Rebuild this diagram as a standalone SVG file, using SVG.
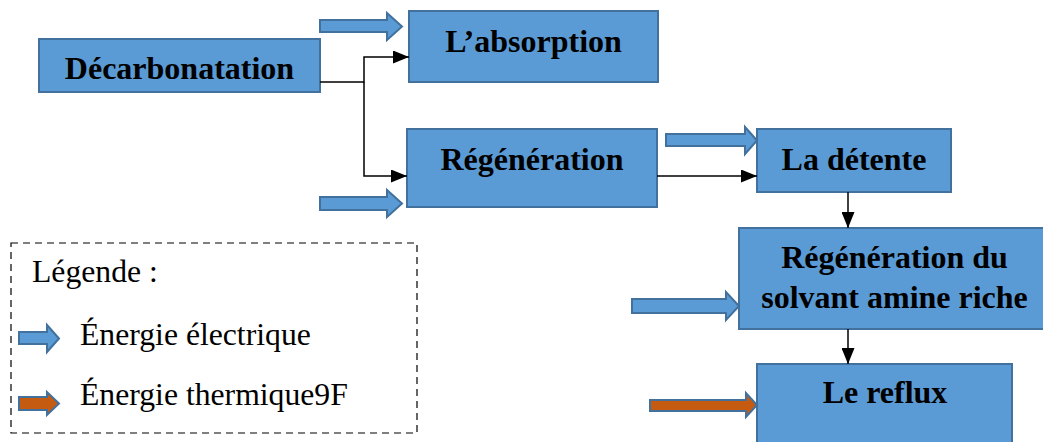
<svg xmlns="http://www.w3.org/2000/svg" width="1043" height="442" viewBox="0 0 1043 442">
<style>
.box{fill:#5B9BD5;stroke:#41719C;stroke-width:2}
.lbl{font-family:"Liberation Serif","Times New Roman",serif;font-weight:bold;font-size:32px;fill:#000;text-anchor:middle}
.leg{font-family:"Liberation Serif","Times New Roman",serif;font-size:31.7px;fill:#000}
.ea{fill:#5B9BD5;stroke:#41719C;stroke-width:2}
.ta{fill:#C55A11;stroke:#41719C;stroke-width:2}
.con{fill:none;stroke:#000;stroke-width:1.5}
</style>
<defs>
<marker id="ah" markerUnits="userSpaceOnUse" markerWidth="16" markerHeight="13" refX="16" refY="6.5" orient="auto">
<path d="M0,0 L16,6.5 L0,13 z" fill="#000"/>
</marker>
</defs>
<rect width="1043" height="442" fill="#fff"/>
<g id="decarbonatation"><rect class="box" x="39" y="39" width="281" height="53"/><text class="lbl" x="179.5" y="79">Décarbonatation</text></g>
<g id="absorption"><rect class="box" x="409" y="11" width="249" height="71"/><text class="lbl" x="533.5" y="52">L’absorption</text></g>
<g id="regeneration"><rect class="box" x="407" y="129" width="250" height="78"/><text class="lbl" x="532" y="170">Régénération</text></g>
<g id="detente"><rect class="box" x="757" y="129" width="194" height="63"/><text class="lbl" x="854" y="170">La détente</text></g>
<g id="regen-solvant"><rect class="box" x="739" y="228" width="312" height="101"/><text class="lbl" x="894.5" y="268">Régénération du</text><text class="lbl" x="894.5" y="308">solvant amine riche</text></g>
<g id="reflux"><rect class="box" x="757" y="364" width="255" height="90"/><text class="lbl" x="885" y="403">Le reflux</text></g>
<g id="connectors">
<path class="con" d="M320,82 H364 V57 H409" marker-end="url(#ah)"/>
<path class="con" d="M364,82 V176 H407" marker-end="url(#ah)"/>
<path class="con" d="M657,176 H757" marker-end="url(#ah)"/>
<path class="con" d="M848,192 V228" marker-end="url(#ah)"/>
<path class="con" d="M848,329 V364" marker-end="url(#ah)"/>
</g>
<g id="energy-arrows">
<polygon class="ea" points="320,20 387,20 387,13 402,26.5 387,40 387,32 320,32"/>
<polygon class="ea" points="320,197 387,197 387,190 402,203.5 387,217 387,210 320,210"/>
<polygon class="ea" points="666,134 745,134 745,127 757,140.5 745,154 745,146 666,146"/>
<polygon class="ea" points="632,299 726,299 726,292 739,306 726,320 726,313 632,313"/>
<polygon class="ta" points="650,400 746,400 746,393 757,405 746,417 746,411 650,411"/>
</g>
<g id="legend">
<rect x="11" y="243" width="406" height="190" fill="none" stroke="#000" stroke-width="1.2" stroke-dasharray="7,5"/>
<text class="leg" x="32" y="282">Légende :</text>
<polygon class="ea" points="19,332 47,332 47,325 59,338.5 47,352 47,344 19,344"/>
<text class="leg" x="80" y="345">Énergie électrique</text>
<polygon class="ta" points="19,397 47,397 47,392 59,403.5 47,415 47,410 19,410"/>
<text class="leg" x="80" y="405">Énergie thermique9F</text>
</g>
</svg>
